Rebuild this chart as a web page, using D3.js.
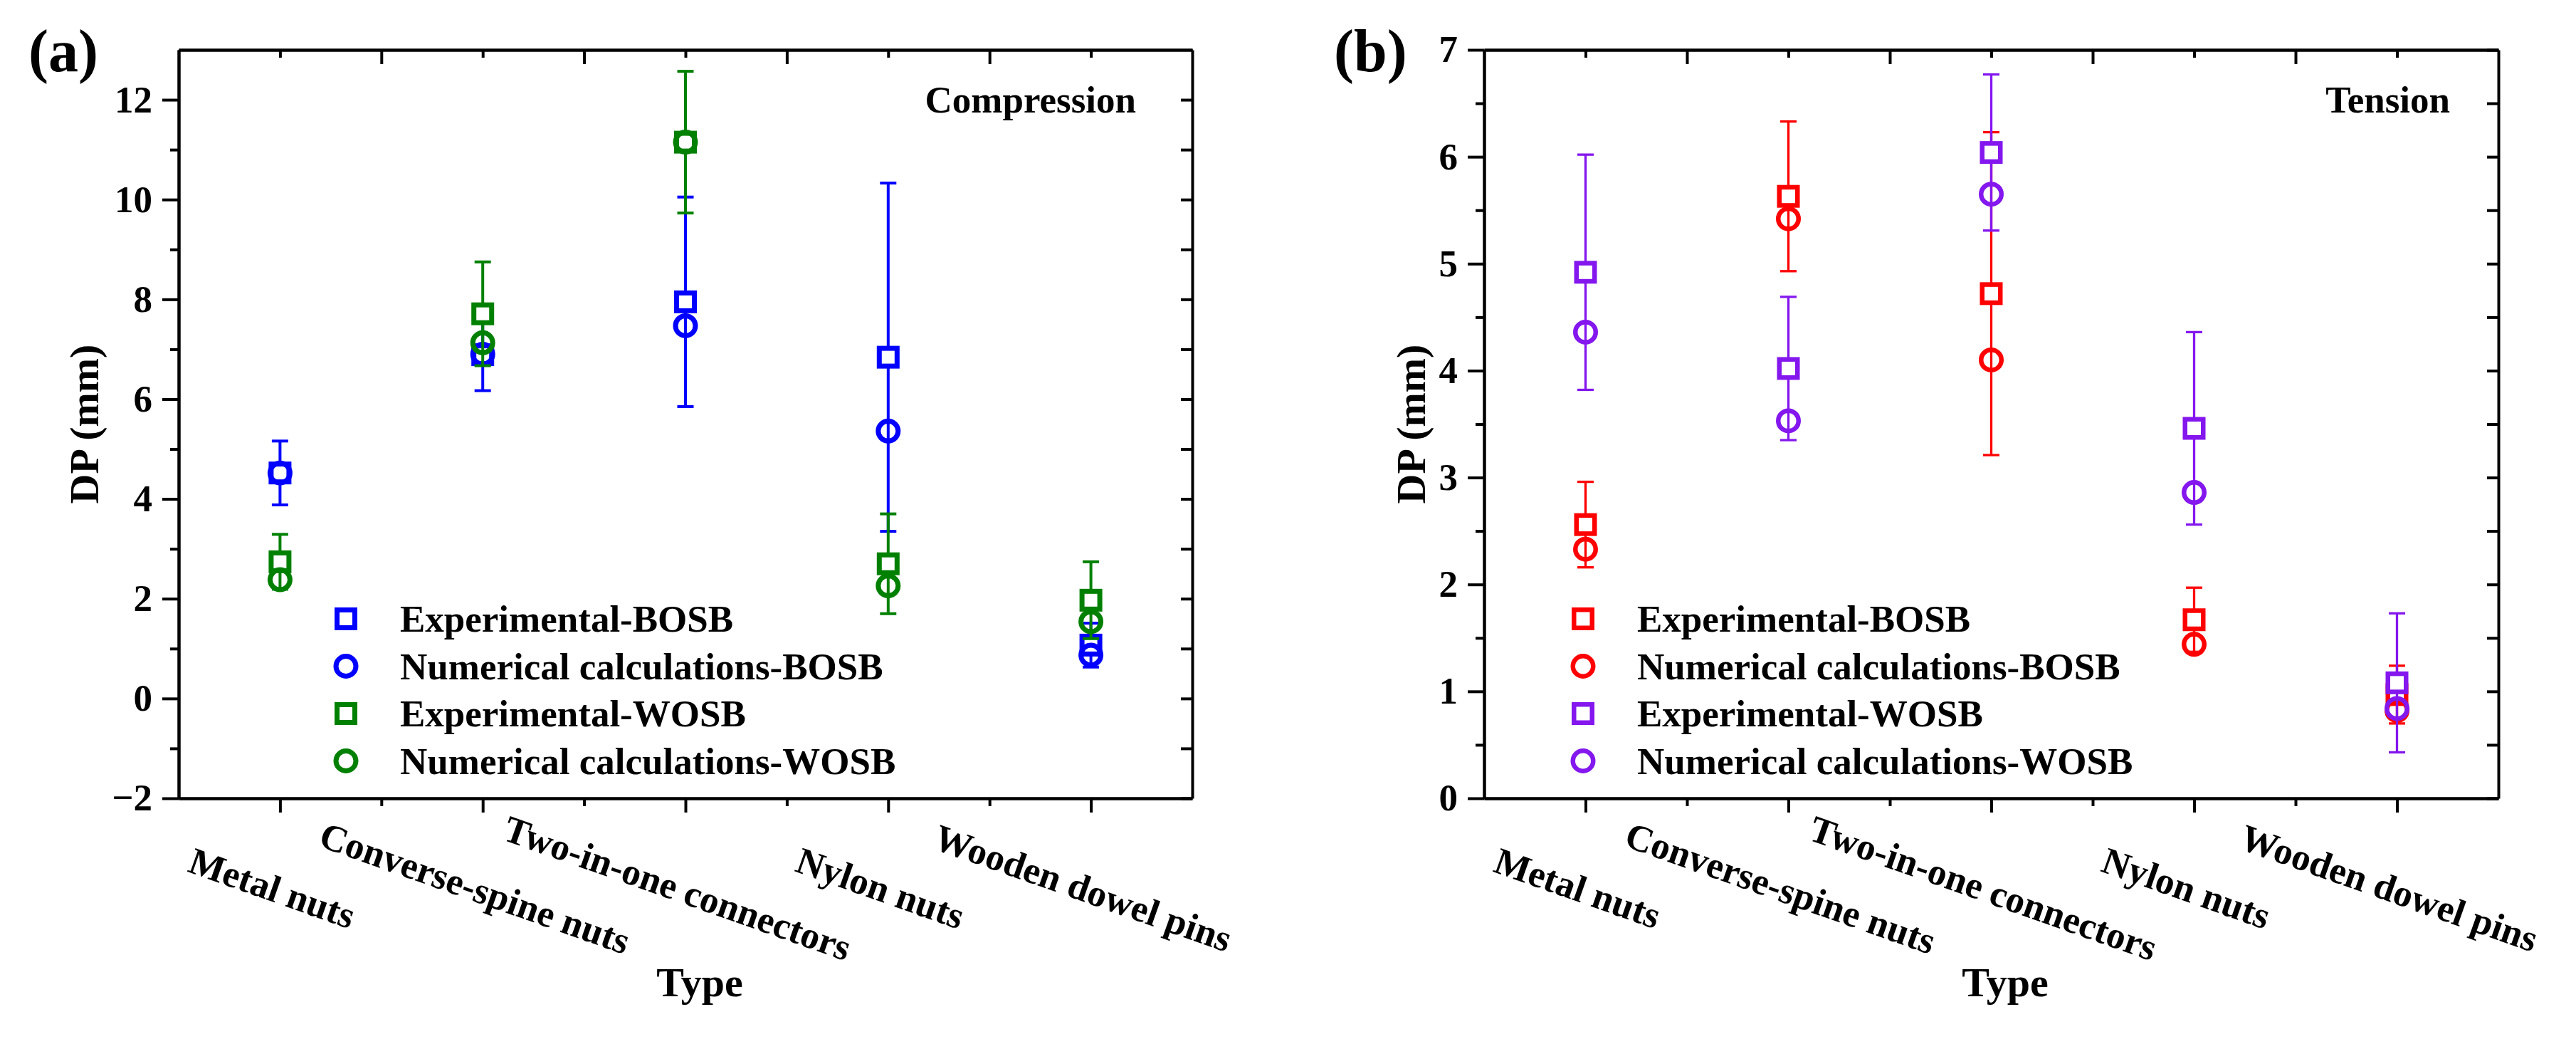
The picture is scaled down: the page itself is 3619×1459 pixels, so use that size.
<!DOCTYPE html>
<html>
<head>
<meta charset="utf-8">
<script src="https://cdn.jsdelivr.net/npm/d3@7/dist/d3.min.js"></script>
<style>
  body { margin: 0; background: #fff; }
  text { font-family: "Liberation Serif", "Times New Roman", serif; font-weight: bold; fill: #000; }
</style>
</head>
<body>
<script>
var types = ["Metal nuts", "Converse-spine nuts", "Two-in-one connectors", "Nylon nuts", "Wooden dowel pins"];
var seriesNames = ["Experimental-BOSB", "Numerical calculations-BOSB", "Experimental-WOSB", "Numerical calculations-WOSB"];

// (a) compression
var compExpBOSB    = [4.52, 6.89, 7.95, 6.84, 1.07];
var compExpBOSBErr = [0.64, 0.72, 2.10, 3.49, 0.44];
var compNumBOSB    = [4.52, 6.90, 7.47, 5.36, 0.87];
var compExpWOSB    = [2.74, 7.71, 11.15, 2.70, 1.97];
var compExpWOSBErr = [0.55, 1.04, 1.42, 1.00, 0.77];
var compNumWOSB    = [2.38, 7.13, 11.15, 2.26, 1.54];
var compTicks = [-2, 0, 2, 4, 6, 8, 10, 12];
var compMinor = [-1, 1, 3, 5, 7, 9, 11];

// (b) tension
var tensExpBOSB    = [2.56, 5.63, 4.72, 1.67, 0.97];
var tensExpBOSBErr = [0.40, 0.70, 1.51, 0.30, 0.27];
var tensNumBOSB    = [2.33, 5.42, 4.10, 1.44, 0.82];
var tensExpWOSB    = [4.92, 4.02, 6.04, 3.46, 1.08];
var tensExpWOSBErr = [1.10, 0.67, 0.73, 0.90, 0.65];
var tensNumWOSB    = [4.36, 3.53, 5.65, 2.86, 0.84];
var tensTicks = [0, 1, 2, 3, 4, 5, 6, 7];
var tensMinor = [0.5, 1.5, 2.5, 3.5, 4.5, 5.5, 6.5];

var catPos = [1, 2, 3, 4, 5];
var catHalf = [1.5, 2.5, 3.5, 4.5];

var W = 3619, H = 1459;
var svg = d3.select("body").append("svg")
    .attr("width", W)
    .attr("height", H);
svg.append("rect").attr("width", W).attr("height", H).attr("fill", "#fff");

function styleAxis(sel) {
  sel.selectAll(".domain, .tick line").attr("stroke", "#000").attr("stroke-width", 4);
  sel.selectAll("text").attr("font-size", 53).attr("fill", "#000")
     .style("font-family", '"Liberation Serif", "Times New Roman", serif').style("font-weight", "bold");
}

function drawPanel(p) {
  var x = d3.scaleLinear().domain([0.5, 5.5]).range([p.left, p.right]);
  var y = d3.scaleLinear().domain(p.yDomain).range([p.bottom, p.top]);
  var g = svg.append("g");

  // frame axes
  g.append("g").attr("transform", "translate(0," + p.bottom + ")")
   .call(d3.axisBottom(x).tickValues(catPos).tickSize(20).tickSizeOuter(0).tickFormat(""))
   .call(styleAxis);
  g.append("g").attr("transform", "translate(0," + p.bottom + ")")
   .call(d3.axisBottom(x).tickValues(catHalf).tickSize(11).tickSizeOuter(0).tickFormat(""))
   .call(styleAxis);
  g.append("g").attr("transform", "translate(0," + p.top + ")")
   .call(d3.axisTop(x).tickValues(catHalf).tickSize(-20).tickSizeOuter(0).tickFormat(""))
   .call(styleAxis);
  g.append("g").attr("transform", "translate(0," + p.top + ")")
   .call(d3.axisTop(x).tickValues(catPos).tickSize(-11).tickSizeOuter(0).tickFormat(""))
   .call(styleAxis);
  g.append("g").attr("transform", "translate(" + p.left + ",0)")
   .call(d3.axisLeft(y).tickValues(p.yTicks).tickSize(23).tickPadding(14).tickSizeOuter(0)
         .tickFormat(function(d) { return d < 0 ? "\u2212" + Math.abs(d) : d; }))
   .call(styleAxis);
  g.append("g").attr("transform", "translate(" + p.left + ",0)")
   .call(d3.axisLeft(y).tickValues(p.yMinor).tickSize(12).tickSizeOuter(0).tickFormat(""))
   .call(styleAxis);
  g.append("g").attr("transform", "translate(" + p.right + ",0)")
   .call(d3.axisRight(y).tickValues(p.yTicks.concat(p.yMinor)).tickSize(-16).tickSizeOuter(0).tickFormat(""))
   .call(styleAxis);

  // category labels
  types.forEach(function(t, i) {
    g.append("text")
     .attr("transform", "translate(" + (x(catPos[i]) - 17) + "," + p.labelY + ") rotate(19.5)")
     .attr("text-anchor", "middle")
     .attr("font-size", 53)
     .text(t);
  });

  // titles
  g.append("text")
   .attr("x", p.typeX).attr("y", 1399)
   .attr("text-anchor", "middle").attr("font-size", 58)
   .text("Type");
  g.append("text")
   .attr("transform", "translate(" + p.dpX + "," + ((p.top + p.bottom) / 2) + ") rotate(-90)")
   .attr("text-anchor", "middle").attr("font-size", 58)
   .text("DP (mm)");
  g.append("text")
   .attr("x", p.letterX).attr("y", 100)
   .attr("font-size", 84)
   .text(p.letter);
  g.append("text")
   .attr("x", p.right - p.noteGap).attr("y", 158)
   .attr("text-anchor", "end").attr("font-size", 53)
   .text(p.note);

  // series: error bars, then markers
  p.series.forEach(function(s, k) {
    var col = p.colors[k];
    if (s.err) {
      var eb = g.append("g").attr("stroke", col).attr("stroke-width", p.errWidth);
      s.values.forEach(function(v, i) {
        var cx = x(catPos[i]);
        var y1 = y(v + s.err[i]), y0 = y(v - s.err[i]);
        eb.append("line").attr("x1", cx).attr("x2", cx).attr("y1", y1).attr("y2", y0);
        eb.append("line").attr("x1", cx - 11.5).attr("x2", cx + 11.5).attr("y1", y1).attr("y2", y1);
        eb.append("line").attr("x1", cx - 11.5).attr("x2", cx + 11.5).attr("y1", y0).attr("y2", y0);
      });
    }
    var mk = g.append("g");
    s.values.forEach(function(v, i) {
      drawMarker(mk, s.shape, x(catPos[i]), y(v), col, p.markWidth);
    });
  });

  // legend
  seriesNames.forEach(function(name, k) {
    var ly = p.legY + k * 66.5;
    drawMarker(g, p.series[k].shape, p.legX, ly, p.colors[k], p.markWidth);
    g.append("text").attr("x", p.legX + 76).attr("y", ly + 18)
     .attr("font-size", 53).text(name);
  });
}

function drawMarker(sel, shape, cx, cy, col, sw) {
  if (shape === "square") {
    var s = 32 - sw;
    sel.append("rect").attr("x", cx - s / 2).attr("y", cy - s / 2)
       .attr("width", s).attr("height", s)
       .attr("fill", "#fff").attr("stroke", col).attr("stroke-width", sw);
  } else {
    sel.append("circle").attr("cx", cx).attr("cy", cy).attr("r", (35 - sw) / 2)
       .attr("fill", "none").attr("stroke", col).attr("stroke-width", sw);
  }
}

drawPanel({
  left: 251, right: 1675, top: 70, bottom: 1121,
  yDomain: [-2, 13], yTicks: compTicks, yMinor: compMinor,
  labelY: 1264, typeX: 983, dpX: 138, letter: "(a)", letterX: 40,
  note: "Compression", noteGap: 79,
  legX: 486, legY: 869, errWidth: 4, markWidth: 7,
  colors: ["#0000ff", "#0000ff", "#008000", "#008000"],
  series: [
    { values: compExpBOSB, err: compExpBOSBErr, shape: "square" },
    { values: compNumBOSB, shape: "circle" },
    { values: compExpWOSB, err: compExpWOSBErr, shape: "square" },
    { values: compNumWOSB, shape: "circle" }
  ]
});

drawPanel({
  left: 2085, right: 3510, top: 70, bottom: 1121,
  yDomain: [0, 7], yTicks: tensTicks, yMinor: tensMinor,
  labelY: 1264, typeX: 2817, dpX: 2002, letter: "(b)", letterX: 1874,
  note: "Tension", noteGap: 68,
  legX: 2224, legY: 869, errWidth: 3.3, markWidth: 6.5,
  colors: ["#ff0000", "#ff0000", "#8416ee", "#8416ee"],
  series: [
    { values: tensExpBOSB, err: tensExpBOSBErr, shape: "square" },
    { values: tensNumBOSB, shape: "circle" },
    { values: tensExpWOSB, err: tensExpWOSBErr, shape: "square" },
    { values: tensNumWOSB, shape: "circle" }
  ]
});
</script>
</body>
</html>
